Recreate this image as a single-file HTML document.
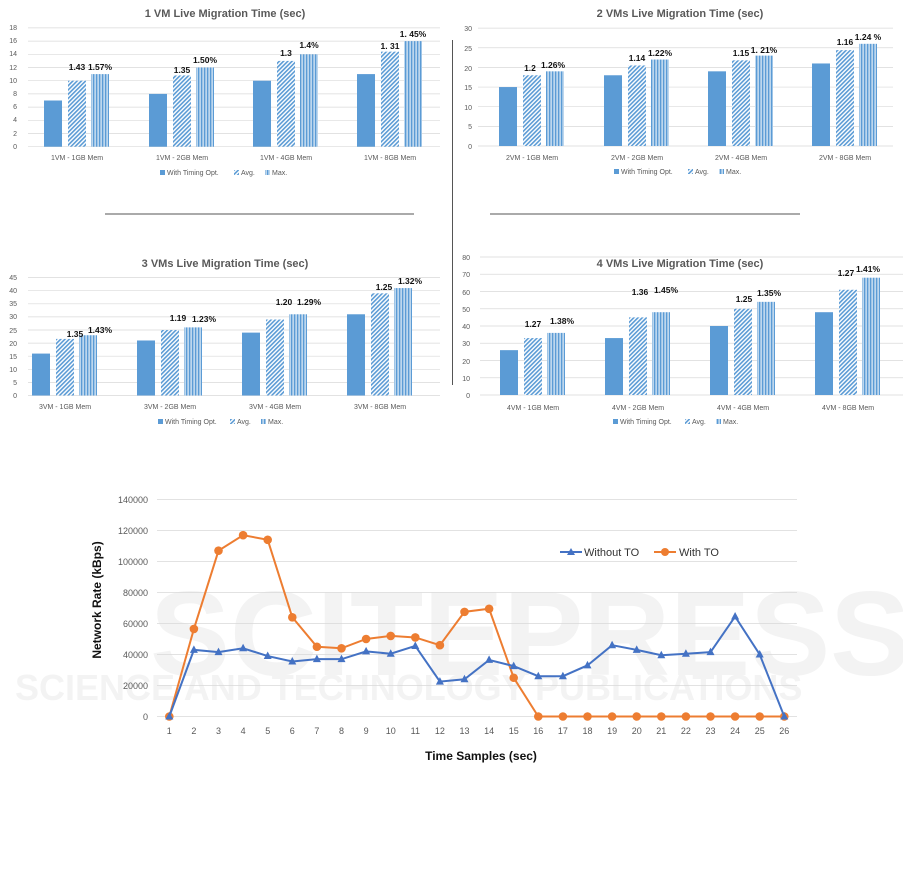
<!DOCTYPE html>
<html><head><meta charset="utf-8"><style>
html,body{margin:0;padding:0;background:#fff;}
svg{display:block;font-family:"Liberation Sans",sans-serif;}
.t{font-size:11px;font-weight:bold;fill:#595959;text-anchor:middle}
.k{font-size:7px;fill:#595959;text-anchor:end}
.c{font-size:7px;fill:#595959;text-anchor:middle}
.l{font-size:7px;fill:#595959}
.v{font-size:8.5px;font-weight:bold;fill:#111;text-anchor:middle}
.wm{fill:#f3f3f3;font-weight:bold}
</style></head><body>
<svg id="s" width="903" height="876" viewBox="0 0 903 876" xmlns="http://www.w3.org/2000/svg">
<defs>
<pattern id="hat" patternUnits="userSpaceOnUse" width="3" height="3" patternTransform="rotate(45)">
<rect width="3" height="3" fill="#fff"/><rect width="1.6" height="3" fill="#5b9bd5"/></pattern>
<pattern id="vs" patternUnits="userSpaceOnUse" width="3" height="3">
<rect width="3" height="3" fill="#bdd7ee"/><rect width="1.3" height="3" fill="#5b9bd5"/></pattern>
</defs>
<!-- watermark -->
<text class="wm" x="150" y="675" font-size="120">SCITEPRESS</text>
<text class="wm" x="15" y="700" font-size="36">SCIENCE AND TECHNOLOGY PUBLICATIONS</text>
<g id="g"></g>
<!-- separators -->
<line x1="105" y1="214" x2="414" y2="214" stroke="#555" stroke-width="1"/>
<line x1="490" y1="214" x2="800" y2="214" stroke="#555" stroke-width="1"/>
<line x1="452.5" y1="40" x2="452.5" y2="385" stroke="#555" stroke-width="1"/>

<!-- titles -->
<text class="t" x="225" y="17">1 VM Live Migration Time (sec)</text>
<text class="t" x="680" y="17">2 VMs Live Migration Time (sec)</text>
<text class="t" x="225" y="267">3 VMs Live Migration Time (sec)</text>
<text class="t" x="680" y="267">4 VMs Live Migration Time (sec)</text>

<!-- 1VM ticks -->
<g class="k"><text x="17" y="149">0</text><text x="17" y="136">2</text><text x="17" y="122">4</text><text x="17" y="109">6</text><text x="17" y="96">8</text><text x="17" y="83">10</text><text x="17" y="70">12</text><text x="17" y="56">14</text><text x="17" y="43">16</text><text x="17" y="30">18</text></g>
<g class="c"><text x="77" y="160">1VM - 1GB Mem</text><text x="182" y="160">1VM - 2GB Mem</text><text x="286" y="160">1VM - 4GB Mem</text><text x="390" y="160">1VM - 8GB Mem</text></g>
<g class="v"><text x="77" y="70">1.43</text><text x="100" y="70">1.57%</text><text x="182" y="73">1.35</text><text x="205" y="63">1.50%</text><text x="286" y="56">1.3</text><text x="309" y="48">1.4%</text><text x="390" y="49">1. 31</text><text x="413" y="37">1. 45%</text></g>

<!-- 2VM ticks -->
<g class="k"><text x="472" y="149">0</text><text x="472" y="129">5</text><text x="472" y="110">10</text><text x="472" y="90">15</text><text x="472" y="71">20</text><text x="472" y="51">25</text><text x="472" y="31">30</text></g>
<g class="c"><text x="532" y="160">2VM - 1GB Mem</text><text x="637" y="160">2VM - 2GB Mem</text><text x="741" y="160">2VM - 4GB Mem</text><text x="845" y="160">2VM - 8GB Mem</text></g>
<g class="v"><text x="530" y="71">1.2</text><text x="553" y="68">1.26%</text><text x="637" y="61">1.14</text><text x="660" y="56">1.22%</text><text x="741" y="56">1.15</text><text x="764" y="53">1. 21%</text><text x="845" y="45">1.16</text><text x="868" y="40">1.24 %</text></g>

<!-- 3VM ticks -->
<g class="k"><text x="17" y="398">0</text><text x="17" y="385">5</text><text x="17" y="372">10</text><text x="17" y="359">15</text><text x="17" y="346">20</text><text x="17" y="333">25</text><text x="17" y="319">30</text><text x="17" y="306">35</text><text x="17" y="293">40</text><text x="17" y="280">45</text></g>
<g class="c"><text x="65" y="409">3VM - 1GB Mem</text><text x="170" y="409">3VM - 2GB Mem</text><text x="275" y="409">3VM - 4GB Mem</text><text x="380" y="409">3VM - 8GB Mem</text></g>
<g class="v"><text x="75" y="337">1.35</text><text x="100" y="333">1.43%</text><text x="178" y="321">1.19</text><text x="204" y="322">1.23%</text><text x="284" y="305">1.20</text><text x="309" y="305">1.29%</text><text x="384" y="290">1.25</text><text x="410" y="284">1.32%</text></g>

<!-- 4VM ticks -->
<g class="k"><text x="470" y="398">0</text><text x="470" y="381">10</text><text x="470" y="364">20</text><text x="470" y="346">30</text><text x="470" y="329">40</text><text x="470" y="312">50</text><text x="470" y="295">60</text><text x="470" y="277">70</text><text x="470" y="260">80</text></g>
<g class="c"><text x="533" y="410">4VM - 1GB Mem</text><text x="638" y="410">4VM - 2GB Mem</text><text x="743" y="410">4VM - 4GB Mem</text><text x="848" y="410">4VM - 8GB Mem</text></g>
<g class="v"><text x="533" y="327">1.27</text><text x="562" y="324">1.38%</text><text x="640" y="295">1.36</text><text x="666" y="293">1.45%</text><text x="744" y="302">1.25</text><text x="769" y="296">1.35%</text><text x="846" y="276">1.27</text><text x="868" y="272">1.41%</text></g>

<!-- bar legends -->
<g class="l">
<rect x="160" y="170" width="5" height="5" fill="#5b9bd5"/><text x="167" y="175">With Timing Opt.</text><rect x="234" y="170" width="5" height="5" fill="url(#hat)"/><text x="241" y="175">Avg.</text><rect x="265" y="170" width="5" height="5" fill="url(#vs)"/><text x="272" y="175">Max.</text>
<rect x="614" y="169" width="5" height="5" fill="#5b9bd5"/><text x="621" y="174">With Timing Opt.</text><rect x="688" y="169" width="5" height="5" fill="url(#hat)"/><text x="695" y="174">Avg.</text><rect x="719" y="169" width="5" height="5" fill="url(#vs)"/><text x="726" y="174">Max.</text>
<rect x="158" y="419" width="5" height="5" fill="#5b9bd5"/><text x="165" y="424">With Timing Opt.</text><rect x="230" y="419" width="5" height="5" fill="url(#hat)"/><text x="237" y="424">Avg.</text><rect x="261" y="419" width="5" height="5" fill="url(#vs)"/><text x="268" y="424">Max.</text>
<rect x="613" y="419" width="5" height="5" fill="#5b9bd5"/><text x="620" y="424">With Timing Opt.</text><rect x="685" y="419" width="5" height="5" fill="url(#hat)"/><text x="692" y="424">Avg.</text><rect x="716" y="419" width="5" height="5" fill="url(#vs)"/><text x="723" y="424">Max.</text>
</g>

<!-- line chart labels -->
<g class="k" style="font-size:9px"><text x="148" y="720">0</text><text x="148" y="689">20000</text><text x="148" y="658">40000</text><text x="148" y="627">60000</text><text x="148" y="596">80000</text><text x="148" y="565">100000</text><text x="148" y="534">120000</text><text x="148" y="503">140000</text></g>
<g class="c" style="font-size:9px"><text x="169.3" y="734">1</text><text x="193.9" y="734">2</text><text x="218.5" y="734">3</text><text x="243.1" y="734">4</text><text x="267.7" y="734">5</text><text x="292.3" y="734">6</text><text x="316.9" y="734">7</text><text x="341.5" y="734">8</text><text x="366.1" y="734">9</text><text x="390.7" y="734">10</text><text x="415.3" y="734">11</text><text x="439.9" y="734">12</text><text x="464.5" y="734">13</text><text x="489.1" y="734">14</text><text x="513.7" y="734">15</text><text x="538.3" y="734">16</text><text x="562.9" y="734">17</text><text x="587.5" y="734">18</text><text x="612.1" y="734">19</text><text x="636.7" y="734">20</text><text x="661.3" y="734">21</text><text x="685.9" y="734">22</text><text x="710.5" y="734">23</text><text x="735.1" y="734">24</text><text x="759.7" y="734">25</text><text x="784.3" y="734">26</text></g>
<text x="481" y="760" style="font-size:12px;font-weight:bold;fill:#111;text-anchor:middle">Time Samples (sec)</text>
<text transform="translate(101,600) rotate(-90)" style="font-size:12px;font-weight:bold;fill:#111;text-anchor:middle">Network Rate (kBps)</text>
<line x1="560" y1="552" x2="582" y2="552" stroke="#4472c4" stroke-width="2"/><path d="M571 548 L575 555 L567 555Z" fill="#4472c4"/>
<text x="584" y="556" style="font-size:11px;fill:#333">Without TO</text>
<line x1="654" y1="552" x2="676" y2="552" stroke="#ed7d31" stroke-width="2"/><circle cx="665" cy="552" r="4" fill="#ed7d31"/>
<text x="679" y="556" style="font-size:11px;fill:#333">With TO</text>
</svg>
<script>
var NS="http://www.w3.org/2000/svg",g=document.getElementById("g");
function el(t,a){var e=document.createElementNS(NS,t);for(var k in a)e.setAttribute(k,a[k]);g.appendChild(e);return e;}
function bar(x0,x1,z,pu,step,n,cs,d){
 for(var i=0;i<=n;i++){var y=z-i*step*pu;el("line",{x1:x0,x2:x1,y1:y,y2:y,stroke:"#d9d9d9","stroke-width":0.7});}
 for(var j=0;j<4;j++){var c=cs[j];
  el("rect",{x:c-33,y:z-d[0][j]*pu,width:18,height:d[0][j]*pu,fill:"#5b9bd5"});
  el("rect",{x:c-9,y:z-d[1][j]*pu,width:18,height:d[1][j]*pu,fill:"url(#hat)"});
  el("rect",{x:c+14,y:z-d[2][j]*pu,width:18,height:d[2][j]*pu,fill:"url(#vs)"});}
}
bar(28,440,146.7,6.6,2,9,[77,182,286,390],[[7,8,10,11],[10,10.8,13,14.4],[11,12,14,16]]);
bar(478,893,146,3.93,5,6,[532,637,741,845],[[15,18,19,21],[18,20.5,21.8,24.4],[19,22,23,26]]);
bar(28,440,395.5,2.62,5,9,[65,170,275,380],[[16,21,24,31],[21.6,25,29,39],[23,26,31,41]]);
bar(480,903,395,1.725,10,8,[533,638,743,848],[[26,33,40,48],[33,45,50,61],[36,48,54,68]]);
var z=716.5,pu=31/20000;
for(var i=0;i<=7;i++){var y=z-i*20000*pu;el("line",{x1:157,x2:797,y1:y,y2:y,stroke:"#d9d9d9","stroke-width":0.8});}
var a=[0,43000,41500,44000,39000,35500,37000,37000,42000,40500,45500,22500,24000,36500,32500,26000,26000,33000,46000,43000,39500,40500,41500,64500,40000,0];
var b=[0,56500,107000,117000,114000,64000,45000,44000,50000,52000,51000,46000,67500,69500,25000,0,0,0,0,0,0,0,0,0,0,0];
function X(i){return 169.3+i*24.6;}
function pts(d){return d.map(function(v,i){return X(i)+","+(z-v*pu);}).join(" ");}
el("polyline",{points:pts(b),fill:"none",stroke:"#ed7d31","stroke-width":2});
b.forEach(function(v,i){el("circle",{cx:X(i),cy:z-v*pu,r:4.3,fill:"#ed7d31"});});
el("polyline",{points:pts(a),fill:"none",stroke:"#4472c4","stroke-width":2});
a.forEach(function(v,i){var x=X(i),y=z-v*pu;el("path",{d:"M"+x+" "+(y-4.5)+" L"+(x+4)+" "+(y+3)+" L"+(x-4)+" "+(y+3)+"Z",fill:"#4472c4"});});
</script>
</body></html>
